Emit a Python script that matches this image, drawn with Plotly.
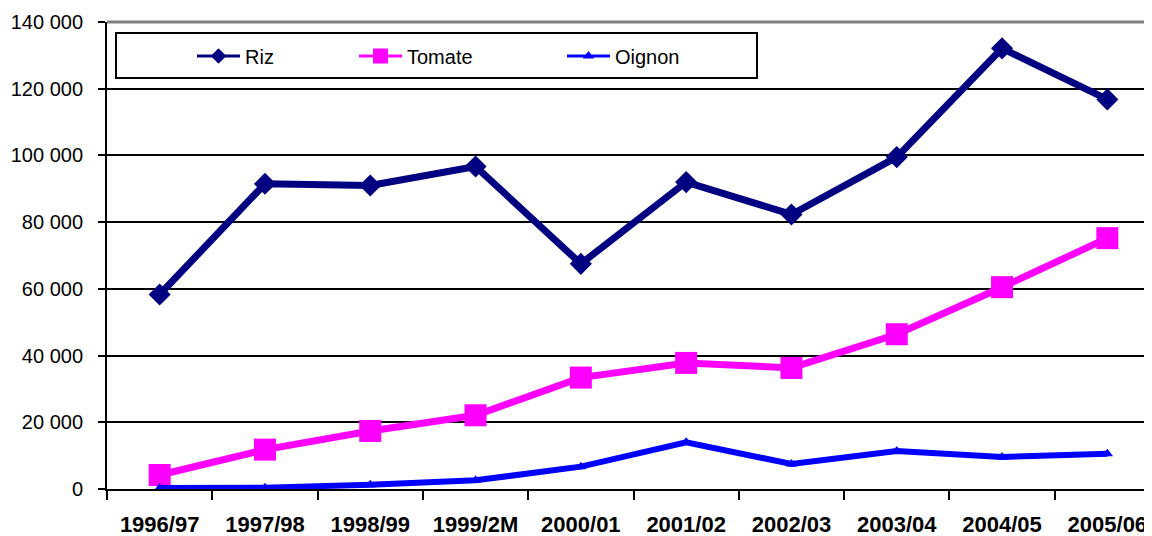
import plotly.graph_objects as go

campagnes = ["1996/97", "1997/98", "1998/99", "1999/2M", "2000/01",
             "2001/02", "2002/03", "2003/04", "2004/05", "2005/06"]
riz = [58300, 91500, 91000, 96700, 67500, 92000, 82300, 99500, 132100, 116800]
tomate = [4200, 11800, 17400, 22100, 33400, 37800, 36300, 46400, 60500, 75200]
oignon = [300, 400, 1300, 2600, 6700, 14000, 7500, 11400, 9600, 10600]

series_names = ["Riz", "Tomate", "Oignon"]
series_values = [riz, tomate, oignon]
colors = ["#000080", "#FF00FF", "#0000FF"]
symbols = ["diamond", "square", "triangle-up"]
line_w = [7, 7, 6]
marker_sz = [17, 22, 10]
legend_marker_sz = [12, 15, 10]
legend_ids = ["legend", "legend2", "legend3"]

W, H = 1152, 536
OFF = 8  # page body margin in the browser
L, R, T, B = 107 - OFF, 0, 22 - OFF, 536 - (489 - OFF)
cat_w = 105.3
plot_w = W - L - R
plot_h = H - T - B
x_hi = -0.5 + plot_w / cat_w

FONT = "Liberation Sans, Arial, sans-serif"


def px(sx):
    return (sx - OFF - L) / plot_w


def py(sy):
    return (H - B - (sy - OFF)) / plot_h


fig = go.Figure()
for name, vals, c, s, lw, ms in zip(series_names, series_values, colors,
                                    symbols, line_w, marker_sz):
    fig.add_trace(go.Scatter(
        x=campagnes, y=vals, name=name, mode="lines+markers",
        line=dict(color=c, width=lw),
        marker=dict(symbol=s, size=ms, color=c),
        showlegend=False))

# legend entries (thin line + small marker, as in the original key)
for name, c, s, ms, lid in zip(series_names, colors, symbols,
                               legend_marker_sz, legend_ids):
    fig.add_trace(go.Scatter(
        x=[None], y=[None], name=name, mode="lines+markers",
        line=dict(color=c, width=3),
        marker=dict(symbol=s, size=ms, color=c),
        legend=lid, showlegend=True, hoverinfo="skip"))

leg_common = dict(orientation="h", xref="container", yref="container",
                  xanchor="left", yanchor="middle", y=1 - (56 - OFF) / H,
                  bgcolor="rgba(0,0,0,0)", borderwidth=0, itemwidth=43,
                  font=dict(family=FONT, size=20, color="black"))

fig.update_layout(
    width=W, height=H,
    margin=dict(l=L, r=R, t=T, b=B, pad=0, autoexpand=False),
    paper_bgcolor="white", plot_bgcolor="white",
    separators=", ",
    showlegend=True,
    legend=dict(x=(192 - OFF) / W, **leg_common),
    legend2=dict(x=(354 - OFF) / W, **leg_common),
    legend3=dict(x=(562 - OFF) / W, **leg_common),
    xaxis=dict(
        type="category", range=[-0.5, x_hi], automargin=False,
        showgrid=False, showline=True, linecolor="black", linewidth=2,
        ticks="outside", tickson="boundaries", ticklen=9, tickwidth=2,
        tickcolor="black", ticklabelstandoff=15,
        tickfont=dict(family=FONT, size=22, color="black", weight="bold"),
    ),
    yaxis=dict(
        range=[0, 140000], dtick=20000, tickformat=",d", automargin=False,
        showgrid=True, gridcolor="black", gridwidth=2,
        showline=True, linecolor="black", linewidth=2,
        ticks="outside", ticklen=7, tickwidth=2, tickcolor="black",
        ticklabelstandoff=11, zeroline=False,
        tickfont=dict(family=FONT, size=20, color="black"),
    ),
    shapes=[
        dict(type="line", xref="paper", yref="paper", x0=0, x1=1, y0=1, y1=1,
             line=dict(color="#808080", width=3), layer="above"),
        dict(type="rect", xref="paper", yref="paper",
             x0=px(116), x1=px(757), y0=py(78), y1=py(33),
             line=dict(color="black", width=2), fillcolor="white", layer="above"),
    ],
)

fig.write_html("out.html")
